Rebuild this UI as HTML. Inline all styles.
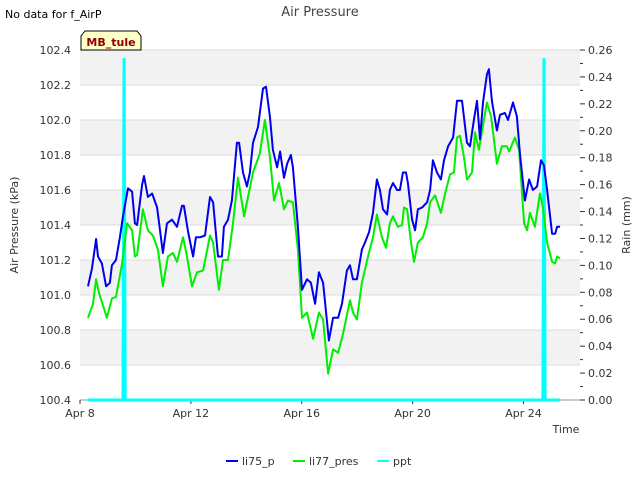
<!DOCTYPE html>
<html><head><meta charset="utf-8"><style>
body{margin:0;background:#fff;font-family:"Liberation Sans","DejaVu Sans",sans-serif}
svg text{font-family:"DejaVu Sans","Liberation Sans",sans-serif}
</style></head><body>
<svg id="chart" width="640" height="480" xmlns="http://www.w3.org/2000/svg">
<rect width="640" height="480" fill="#fff"/>
<text x="5" y="18" font-size="11" fill="#000">No data for f_AirP</text>
<text x="320" y="16" font-size="13" fill="#444" text-anchor="middle">Air Pressure</text>
<g id="bands"></g>
<g id="grid"></g>
<g id="axes"></g>
<g id="series"></g>
<g>
<path d="M81,50 L81,36 L85,31 L137,31 L141,36 L141,50 Z" fill="#ffffc8" stroke="#000" stroke-width="1"/>
<text x="111" y="46" font-size="11" font-weight="bold" fill="#8b0000" text-anchor="middle">MB_tule</text>
</g>
<text transform="translate(18,225) rotate(-90)" font-size="11" fill="#333" text-anchor="middle">Air Pressure (kPa)</text>
<text transform="translate(630,225) rotate(-90)" font-size="11" fill="#333" text-anchor="middle">Rain (mm)</text>
<text x="566" y="433" font-size="11" fill="#333" text-anchor="middle">Time</text>
<g id="legend"></g>
</svg>
<script>
const blueT=[0.29,0.43,0.58,0.65,0.79,0.94,1.08,1.15,1.30,1.44,1.55,1.73,1.88,1.98,2.06,2.24,2.31,2.45,2.60,2.78,2.99,3.14,3.32,3.50,3.68,3.75,3.90,4.08,4.18,4.33,4.51,4.69,4.80,4.98,5.12,5.19,5.34,5.48,5.66,5.74,5.88,6.02,6.13,6.24,6.42,6.60,6.71,6.85,6.96,7.11,7.22,7.36,7.47,7.61,7.68,7.86,8.01,8.19,8.33,8.48,8.62,8.77,8.98,9.13,9.31,9.45,9.63,9.74,9.85,9.99,10.17,10.28,10.43,10.57,10.71,10.82,10.93,11.08,11.18,11.29,11.44,11.54,11.65,11.76,11.83,11.98,12.09,12.19,12.34,12.52,12.63,12.73,12.88,13.02,13.13,13.28,13.46,13.60,13.78,13.96,14.07,14.21,14.32,14.43,14.54,14.68,14.75,14.86,15.04,15.15,15.33,15.44,15.62,15.76,15.87,16.05,16.20,16.34,16.49,16.63,16.74,16.85,17.03,17.14,17.21,17.32];
const blueV=[101.05,101.15,101.32,101.22,101.18,101.05,101.07,101.17,101.20,101.33,101.45,101.61,101.59,101.41,101.40,101.63,101.68,101.56,101.58,101.50,101.24,101.41,101.43,101.39,101.51,101.51,101.36,101.22,101.33,101.33,101.34,101.56,101.53,101.22,101.22,101.39,101.43,101.54,101.87,101.87,101.70,101.62,101.70,101.87,101.96,102.18,102.19,102.02,101.83,101.73,101.82,101.67,101.75,101.80,101.73,101.39,101.03,101.09,101.07,100.95,101.13,101.07,100.74,100.87,100.87,100.95,101.14,101.17,101.09,101.09,101.26,101.30,101.36,101.47,101.66,101.60,101.49,101.46,101.60,101.64,101.60,101.60,101.70,101.70,101.64,101.43,101.37,101.49,101.50,101.53,101.60,101.77,101.70,101.66,101.77,101.85,101.90,102.11,102.11,101.87,101.85,102.00,102.11,101.89,102.10,102.26,102.29,102.11,101.94,102.03,102.04,102.00,102.10,102.02,101.81,101.54,101.66,101.60,101.62,101.77,101.74,101.60,101.35,101.35,101.39,101.39];
const greenT=[0.29,0.47,0.58,0.69,0.97,1.15,1.30,1.52,1.70,1.88,1.98,2.06,2.27,2.45,2.63,2.81,2.99,3.17,3.35,3.50,3.72,3.86,4.04,4.22,4.44,4.69,4.80,5.01,5.16,5.34,5.52,5.70,5.92,6.06,6.24,6.49,6.67,6.85,7.00,7.18,7.36,7.50,7.68,7.86,8.01,8.19,8.41,8.62,8.77,8.95,9.13,9.31,9.49,9.74,9.85,9.99,10.17,10.39,10.57,10.71,10.89,11.04,11.18,11.29,11.47,11.62,11.69,11.80,11.94,12.05,12.19,12.37,12.52,12.63,12.81,13.02,13.17,13.35,13.49,13.60,13.71,13.85,13.96,14.14,14.25,14.39,14.57,14.68,14.83,15.04,15.22,15.40,15.48,15.69,15.84,16.02,16.13,16.23,16.41,16.59,16.70,16.85,17.03,17.14,17.21,17.32];
const greenV=[100.87,100.95,101.09,101.01,100.87,100.98,100.99,101.18,101.41,101.37,101.22,101.23,101.49,101.37,101.34,101.26,101.05,101.22,101.24,101.19,101.33,101.22,101.05,101.13,101.14,101.34,101.30,101.03,101.20,101.20,101.41,101.67,101.45,101.56,101.70,101.81,102.00,101.79,101.54,101.64,101.49,101.54,101.53,101.26,100.87,100.90,100.75,100.90,100.86,100.55,100.69,100.67,100.78,100.97,100.90,100.86,101.07,101.22,101.33,101.46,101.33,101.27,101.41,101.45,101.39,101.40,101.50,101.49,101.30,101.19,101.30,101.33,101.41,101.53,101.57,101.47,101.58,101.69,101.70,101.90,101.91,101.79,101.66,101.70,101.93,101.83,102.00,102.10,102.02,101.75,101.85,101.85,101.82,101.90,101.83,101.41,101.37,101.47,101.39,101.58,101.50,101.30,101.19,101.18,101.22,101.21];
const pptT=[0.29,1.55,1.59,1.63,16.70,16.74,16.78,17.32];
const pptV=[0,0,0.254,0,0,0.254,0,0];
const leftTicks=[100.4,100.6,100.8,101.0,101.2,101.4,101.6,101.8,102.0,102.2,102.4];
const rightTicks=[0,0.02,0.04,0.06,0.08,0.10,0.12,0.14,0.16,0.18,0.20,0.22,0.24,0.26];
const xTickDays=[0,4,8,12,16];
const xTickLabels=["Apr 8","Apr 12","Apr 16","Apr 20","Apr 24"];

const L=80,R=580,T=50,B=400;
const x=d=>L+d*27.72;
const y=v=>B-(v-100.4)/2.0*(B-T);
const y2=v=>B-v/0.26*(B-T);
const NS="http://www.w3.org/2000/svg";
function mk(tag,attrs,parent){const e=document.createElementNS(NS,tag);for(const k in attrs)e.setAttribute(k,attrs[k]);parent.appendChild(e);return e;}
const bands=document.getElementById('bands'),grid=document.getElementById('grid'),axes=document.getElementById('axes'),series=document.getElementById('series'),legend=document.getElementById('legend');
mk('rect',{x:L,y:T,width:R-L,height:B-T,fill:'#fff'},bands);
for(let i=0;i<leftTicks.length-1;i++){
  if((leftTicks.length-2-i)%2===0){
    const r=mk('rect',{x:L,y:y(leftTicks[i+1]),width:R-L,height:y(leftTicks[i])-y(leftTicks[i+1]),fill:'#f2f2f2'},bands);
    
    
  }
}
leftTicks.forEach(v=>{
  const ln=mk('line',{x1:L,x2:R,y1:y(v),y2:y(v),stroke:'#dcdcdc','stroke-width':1},grid);
  
  
  const t=mk('text',{x:L-9,y:y(v)+4,'font-size':11,fill:'#333','text-anchor':'end'},axes);
  t.textContent=v.toFixed(1);
  
  
});
rightTicks.forEach((v,i)=>{
  mk('line',{x1:R,x2:R+5,y1:y2(v),y2:y2(v),stroke:'#333'},axes);
  if(i<rightTicks.length-1){const m=(v+rightTicks[i+1])/2;mk('line',{x1:R,x2:R+3,y1:y2(m),y2:y2(m),stroke:'#333'},axes);}
  const t=mk('text',{x:R+8,y:y2(v)+4,'font-size':11,fill:'#333'},axes);
  t.textContent=v.toFixed(2);
  
  
});
mk('line',{x1:L,x2:R,y1:B,y2:B,stroke:'#999'},axes);
xTickDays.forEach((d,i)=>{
  mk('line',{x1:x(d),x2:x(d),y1:B,y2:B+4,stroke:'#333'},axes);
  const t=mk('text',{x:x(d),y:B+17,'font-size':11,fill:'#333','text-anchor':'middle'},axes);
  t.textContent=xTickLabels[i];
  
  
});
function pts(ts,vs,fy){return ts.map((t,i)=>x(t).toFixed(1)+','+fy(vs[i]).toFixed(1)).join(' ');}
const pp=mk('polyline',{points:pts(pptT,pptV,y2),fill:'none',stroke:'#00ffff','stroke-width':3},series);


const gl=mk('polyline',{points:pts(greenT,greenV,y),fill:'none',stroke:'#00ee00','stroke-width':2,'stroke-linejoin':'round'},series);


const bl=mk('polyline',{points:pts(blueT,blueV,y),fill:'none',stroke:'#0000ee','stroke-width':2,'stroke-linejoin':'round'},series);


const leg=[['li75_p','#0000ee',226],['li77_pres','#00ee00',293],['ppt','#00ffff',377]];
leg.forEach(([n,c,lx])=>{
  const g=mk('g',{},legend);
  
  
  mk('line',{x1:lx,x2:lx+12,y1:461,y2:461,stroke:c,'stroke-width':2},g);
  const t=mk('text',{x:lx+16,y:465,'font-size':11,fill:'#333'},g);
  t.textContent=n;
});
</script>
</body></html>
